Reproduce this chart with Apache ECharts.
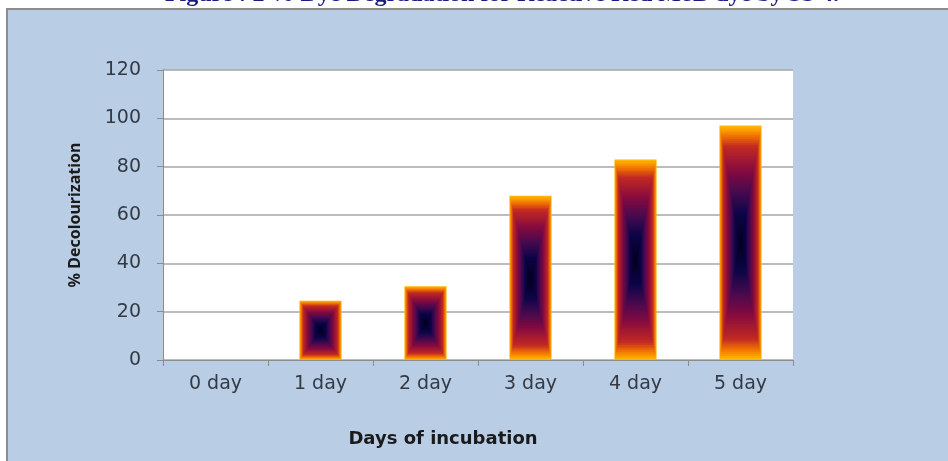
<!DOCTYPE html>
<html>
<head>
<meta charset="utf-8">
<script src="https://cdn.jsdelivr.net/npm/echarts@6/dist/echarts.min.js"></script>
<style>
    html, body {margin:0;padding:0;background:#fff}
    #main {width:948px;height:461px}
</style>
</head>
<body>
<div id="main"></div>
<script>
    var days = ['0 day', '1 day', '2 day', '3 day', '4 day', '5 day'];
    var decolour = [0, 24.5, 30.5, 68, 83, 97];
    var yMin = 0, yMax = 120, yStep = 20;

    // bar fill: colour from centre (0) to edge (1), like excel's "from centre" gradient
    var rampStops = [0, 0.25, 0.45, 0.62, 0.83, 0.92, 1];
    var rampColors = ['#02001a', '#0c0548', '#4a0a4e', '#850a40', '#c22a22', '#f27400', '#ffb600'];

    function hexRgb(h) {
        return [parseInt(h.substr(1, 2), 16), parseInt(h.substr(3, 2), 16), parseInt(h.substr(5, 2), 16)];
    }
    function ramp(t) {
        for (var i = 1; i < rampStops.length; i++) {
            if (t <= rampStops[i]) {
                var f = (t - rampStops[i - 1]) / (rampStops[i] - rampStops[i - 1]);
                var a = hexRgb(rampColors[i - 1]), b = hexRgb(rampColors[i]);
                return 'rgb(' + Math.round(a[0] + (b[0] - a[0]) * f) + ',' +
                    Math.round(a[1] + (b[1] - a[1]) * f) + ',' +
                    Math.round(a[2] + (b[2] - a[2]) * f) + ')';
            }
        }
        return rampColors[rampColors.length - 1];
    }

    function renderBar(params, api) {
        var v = api.value(1);
        if (!v) return;
        var top = api.coord([api.value(0), v]);
        var bot = api.coord([api.value(0), 0]);
        var w = api.size([1, 0])[0] * 0.4;
        var cx = top[0], cy = (top[1] + bot[1]) / 2;
        var hw = w / 2, hh = (bot[1] - top[1]) / 2;
        var kids = [];
        var N = 60;
        for (var k = 0; k < N; k++) {
            var t = 1 - k / N;
            kids.push({
                type: 'rect',
                shape: {x: cx - hw * t, y: cy - hh * t, width: 2 * hw * t, height: 2 * hh * t},
                style: {fill: ramp(t)}
            });
        }
        return {type: 'group', children: kids};
    }

    var chart = echarts.init(document.getElementById('main'));
    var wide = '"DejaVu Sans", sans-serif';

    chart.setOption({
        backgroundColor: '#ffffff',
        animation: false,
        graphic: [
            {
                type: 'rect', z: -10, silent: true,
                shape: {x: 7, y: 9, width: 960, height: 470},
                style: {fill: '#b9cde5', stroke: '#8c8c8c', lineWidth: 2}
            },
            {
                type: 'text', x: 502, y: 7,
                style: {
                    text: 'Figure : 2 % Dye Degradation for Reactive Red M8B dye by SS 4.',
                    font: 'bold 24px "Liberation Serif", serif',
                    fill: '#1a1a80', align: 'center', verticalAlign: 'bottom'
                }
            }
        ],
        grid: {
            left: 163, right: 155, top: 70, bottom: 101,
            show: true, backgroundColor: '#ffffff', borderWidth: 0
        },
        xAxis: {
            type: 'category',
            data: days,
            name: 'Days of incubation',
            nameLocation: 'middle',
            nameGap: 70,
            nameTextStyle: {fontFamily: wide, fontWeight: 'bold', fontSize: 18, color: '#1a1a1a', padding: [0, 70, 0, 0]},
            axisLine: {lineStyle: {color: '#8c8c8c', width: 1}},
            axisTick: {show: true, alignWithLabel: false, length: 6, lineStyle: {color: '#8c8c8c'}},
            axisLabel: {fontFamily: wide, fontSize: 19, color: '#333a44', margin: 15}
        },
        yAxis: {
            type: 'value',
            min: yMin, max: yMax, interval: yStep,
            name: '% Decolourization',
            nameLocation: 'middle',
            nameGap: 80,
            nameRotate: 90,
            nameTextStyle: {fontFamily: '"Noto Sans", sans-serif', fontWeight: 'bold', fontSize: 16, color: '#1a1a1a'},
            axisLine: {show: true, lineStyle: {color: '#8c8c8c', width: 1}},
            axisTick: {show: true, length: 6, lineStyle: {color: '#8c8c8c'}},
            axisLabel: {fontFamily: wide, fontSize: 19, color: '#333a44', margin: 22},
            splitLine: {lineStyle: {color: '#a6a6a6', width: 1.5}}
        },
        series: [{
            type: 'custom',
            renderItem: renderBar,
            encode: {x: 0, y: 1},
            data: decolour.map(function (v, i) { return [i, v]; })
        }]
    });
</script>
</body>
</html>
